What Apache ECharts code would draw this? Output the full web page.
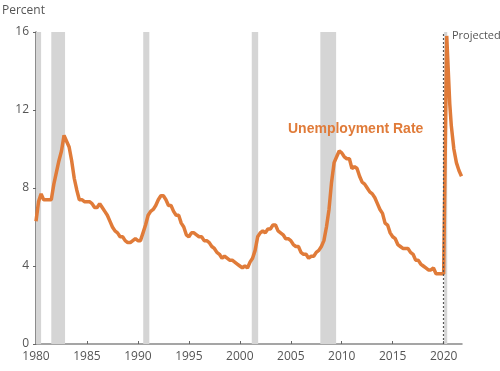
<!DOCTYPE html>
<html><head><meta charset="utf-8">
<script src="https://cdn.jsdelivr.net/npm/echarts@6/dist/echarts.min.js"></script>
<style>html,body{margin:0;padding:0;background:#fff}#c{width:500px;height:371px}</style>
</head><body><div id="c"></div>
<script>
// Quarterly unemployment rate (percent)
const years = [
1980,1980.25,1980.5,1980.75,1981,1981.25,1981.5,1981.75,1982,1982.25,1982.5,1982.75,
1983,1983.25,1983.5,1983.75,1984,1984.25,1984.5,1984.75,1985,1985.25,1985.5,1985.75,
1986,1986.25,1986.5,1986.75,1987,1987.25,1987.5,1987.75,1988,1988.25,1988.5,1988.75,
1989,1989.25,1989.5,1989.75,1990,1990.25,1990.5,1990.75,1991,1991.25,1991.5,1991.75,
1992,1992.25,1992.5,1992.75,1993,1993.25,1993.5,1993.75,1994,1994.25,1994.5,1994.75,
1995,1995.25,1995.5,1995.75,1996,1996.25,1996.5,1996.75,1997,1997.25,1997.5,1997.75,
1998,1998.25,1998.5,1998.75,1999,1999.25,1999.5,1999.75,2000,2000.25,2000.5,2000.75,
2001,2001.25,2001.5,2001.75,2002,2002.25,2002.5,2002.75,2003,2003.25,2003.5,2003.75,
2004,2004.25,2004.5,2004.75,2005,2005.25,2005.5,2005.75,2006,2006.25,2006.5,2006.75,
2007,2007.25,2007.5,2007.75,2008,2008.25,2008.5,2008.75,2009,2009.25,2009.5,2009.75,
2010,2010.25,2010.5,2010.75,2011,2011.25,2011.5,2011.75,2012,2012.25,2012.5,2012.75,
2013,2013.25,2013.5,2013.75,2014,2014.25,2014.5,2014.75,2015,2015.25,2015.5,2015.75,
2016,2016.25,2016.5,2016.75,2017,2017.25,2017.5,2017.75,2018,2018.25,2018.5,2018.75,
2019,2019.25,2019.5,2019.75,2020,2020.12,2020.3,2020.45,2020.6,2020.75,2021,2021.25,2021.5,2021.75
];
const rate = [
6.3,7.3,7.7,7.4,7.4,7.4,7.4,8.2,8.8,9.4,9.9,10.7,
10.4,10.1,9.4,8.5,7.9,7.4,7.4,7.3,7.3,7.3,7.2,7.0,
7.0,7.2,7.0,6.8,6.6,6.3,6.0,5.8,5.7,5.5,5.5,5.3,
5.2,5.2,5.3,5.4,5.3,5.3,5.7,6.1,6.6,6.8,6.9,7.1,
7.4,7.6,7.6,7.4,7.1,7.1,6.8,6.6,6.6,6.2,6.0,5.6,
5.5,5.7,5.7,5.6,5.5,5.5,5.3,5.3,5.2,5.0,4.9,4.7,
4.6,4.4,4.5,4.4,4.3,4.3,4.2,4.1,4.0,3.9,4.0,3.9,
4.2,4.4,4.8,5.5,5.7,5.8,5.7,5.9,5.9,6.1,6.1,5.8,
5.7,5.6,5.4,5.4,5.3,5.1,5.0,5.0,4.7,4.6,4.6,4.4,
4.5,4.5,4.7,4.8,5.0,5.3,6.0,6.9,8.3,9.3,9.6,9.9,
9.8,9.6,9.5,9.5,9.0,9.1,9.0,8.6,8.3,8.2,8.0,7.8,
7.7,7.5,7.2,6.9,6.7,6.2,6.1,5.7,5.5,5.4,5.1,5.0,
4.9,4.9,4.9,4.7,4.6,4.3,4.3,4.1,4.0,3.9,3.8,3.8,
3.9,3.6,3.6,3.6,3.6,3.6,15.8,15.7,12.3,11.2,10.0,9.3,8.9,8.6
];
// Recession periods (start, end)
const recessionStart = [1980.0, 1981.5, 1990.52, 2001.17, 2007.9, 2020.05];
const recessionEnd   = [1980.5, 1982.85, 1991.12, 2001.8, 2009.45, 2020.35];
const projectionStart = 2020.0;
const xTicks = [1980,1985,1990,1995,2000,2005,2010,2015,2020];

const lineData = years.map((y,i)=>[y, rate[i]]);
const areas = recessionStart.map((s,i)=>[{xAxis:s},{xAxis:recessionEnd[i]}]);

const chart = echarts.init(document.getElementById('c'));
const FONT = '"Open Sans", "Noto Sans", sans-serif';
chart.setOption({
  animation:false,
  backgroundColor:'#fff',
  grid:{left:36,right:38,top:32,bottom:27,containLabel:false},
  xAxis:{
    type:'value', min:1980, max:2021.8, interval:5,
    splitLine:{show:false},
    axisLine:{lineStyle:{color:'#888',width:1.5}},
    axisTick:{inside:true,length:3,customValues:xTicks,lineStyle:{color:'#666'}},
    axisLabel:{customValues:xTicks,color:'#555',fontSize:12,fontFamily:FONT,margin:7,formatter:v=>String(v)}
  },
  yAxis:{
    type:'value', min:0, max:16, interval:4,
    splitLine:{show:false},
    axisLine:{show:true,lineStyle:{color:'#666',width:1.5}},
    axisTick:{show:true,length:3,lineStyle:{color:'#666'}},
    axisLabel:{color:'#555',fontSize:12,fontFamily:FONT,margin:7}
  },
  series:[
    {type:'line',data:[],z:1,silent:true,
     markArea:{silent:true,itemStyle:{color:'#d5d5d5'},data:areas}},
    {type:'line',data:lineData,z:3,symbol:'none',smooth:false,
     lineStyle:{color:'#E07B39',width:3.5},
     markLine:{silent:true,symbol:'none',label:{show:false},
       lineStyle:{color:'#555',type:[2,2],width:1.2},
       data:[{xAxis:projectionStart}]}}
  ],
  graphic:[
    {type:'text',z:100,left:2,top:5,style:{text:'Percent',fill:'#555',fontSize:12,fontFamily:FONT}},
    {type:'text',z:100,left:452,top:30,style:{text:'Projected',fill:'#555',fontSize:11,fontFamily:FONT}},
    {type:'text',z:100,left:288,top:122,style:{text:'Unemployment Rate',fill:'#E07B39',fontSize:14,fontWeight:'bold',fontFamily:'"Liberation Sans", sans-serif'}}
  ]
});
</script></body></html>
